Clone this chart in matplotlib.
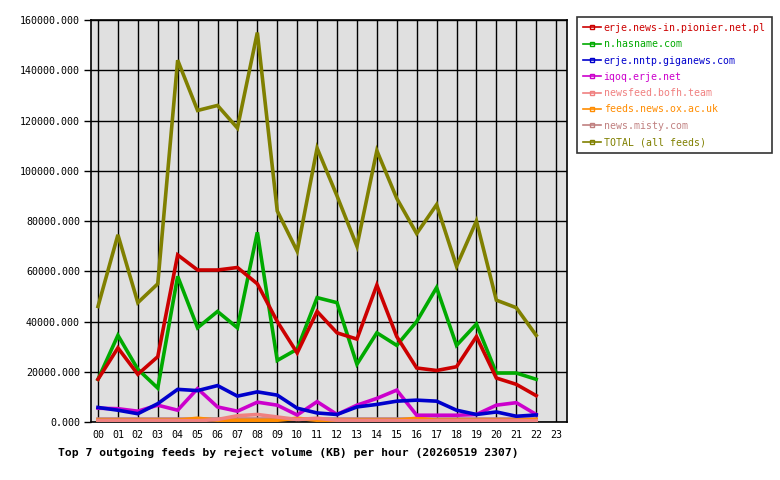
import matplotlib
matplotlib.use("Agg")
from matplotlib import pyplot as plt

hours = list(range(23))
hour_labels = ["%02d" % h for h in range(24)]

names = ["erje.news-in.pionier.net.pl", "n.hasname.com", "erje.nntp.giganews.com",
         "iqoq.erje.net", "newsfeed.bofh.team", "feeds.news.ox.ac.uk",
         "news.misty.com", "TOTAL (all feeds)"]
colors = ["#cc0000", "#00aa00", "#0000cc", "#cc00cc", "#f08080", "#ff8c00",
          "#c08080", "#808000"]

pionier = [17000, 29500, 19000, 26000, 66500, 60500, 60500, 61500, 55000, 40000, 27500, 44000,
           35500, 33000, 54500, 34000, 21500, 20500, 22000, 34000, 17500, 15000, 10500]
hasname = [17000, 34500, 21000, 13500, 58000, 37500, 44000, 37500, 75500, 24500, 29000, 49500,
           47500, 23000, 35500, 30500, 40000, 53500, 30500, 39000, 19500, 19500, 17000]
giganews = [5800, 4700, 3300, 7300, 13000, 12500, 14500, 10300, 12000, 10700, 5500, 3600,
            3000, 6000, 7000, 8300, 8700, 8300, 4700, 3000, 4000, 2300, 2800]
iqoq = [5500, 5300, 4300, 6700, 4700, 13300, 6000, 4300, 7900, 6700, 2800, 8100,
        3000, 6700, 9400, 12700, 2700, 2700, 2700, 3000, 6700, 7700, 3000]
bofh = [500, 500, 500, 500, 500, 500, 1000, 2500, 3000, 2000, 1000, 1500,
        700, 500, 500, 500, 500, 500, 500, 500, 500, 500, 500]
oxac = [700, 700, 700, 700, 700, 1500, 700, 700, 700, 700, 1500, 700,
        700, 700, 700, 700, 1500, 700, 700, 700, 700, 700, 1000]
misty = [1300, 1300, 1300, 1300, 1300, 1300, 1300, 1300, 1300, 1300, 1300, 1300,
         1300, 1300, 1300, 1300, 1300, 1300, 1300, 1300, 1300, 1300, 1300]
total = [46000, 74500, 47500, 55000, 144000, 124000, 126000, 117000, 155000, 84000, 68000, 109000,
         90000, 70000, 108000, 89000, 75000, 86500, 62000, 80000, 48500, 45500, 34500]

series = [pionier, hasname, giganews, iqoq, bofh, oxac, misty, total]

plt.rcParams['font.family'] = ['DejaVu Sans Mono']
fig = plt.figure(figsize=(7.8, 4.8), dpi=100)
ax = fig.add_axes([0.1167, 0.1208, 0.6103, 0.8375])
ax.set_facecolor("#e0e0e0")

# small series first so the big ones sit on top
order = [6, 5, 4, 3, 2, 1, 0, 7]
for i in order:
    ax.plot(hours, series[i], color=colors[i], lw=2.6, solid_joinstyle="miter", zorder=3)

ax.set_xlim(-0.35, 23.55)
ax.set_ylim(0, 160000)
ax.set_xticks(range(24))
ax.set_xticklabels(hour_labels)
ax.set_yticks(range(0, 160001, 20000))
ax.set_yticklabels(["%d.000" % v for v in range(0, 160001, 20000)])
ax.grid(True, color="black", lw=1)
ax.set_axisbelow(True)
ax.tick_params(axis="x", length=0, labelsize=7.2, pad=6)
ax.tick_params(axis="y", length=5, width=1, labelsize=7.2, direction="out", pad=3)
for s in ax.spines.values():
    s.set_linewidth(1.2)

handles = [plt.Line2D([], [], color=c, lw=1.2, marker="s", markersize=3,
                      markerfacecolor="none", markeredgecolor=c) for c in colors]
leg = fig.legend(handles, names, loc="upper left", bbox_to_anchor=(0.7397, 0.9646),
                 frameon=True, fancybox=False, edgecolor="black", fontsize=7.1,
                 handlelength=1.8, handletextpad=0.3, labelspacing=0.64, borderpad=0.6,
                 borderaxespad=0)
leg.get_frame().set_linewidth(1.2)
for t, c in zip(leg.get_texts(), colors):
    t.set_color(c)

fig.text(0.074, 0.05, "Top 7 outgoing feeds by reject volume (KB) per hour (20260519 2307)",
         fontsize=8.2, fontweight="bold")

fig.savefig("out.png", dpi=100)
